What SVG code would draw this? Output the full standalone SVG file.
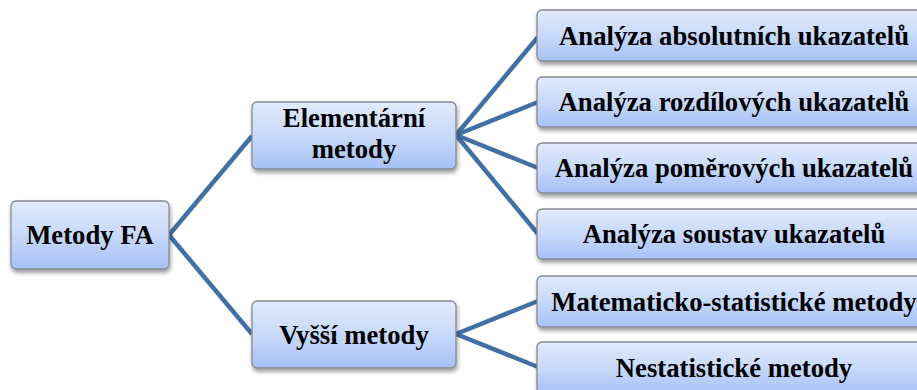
<svg xmlns="http://www.w3.org/2000/svg" width="917" height="390" viewBox="0 0 917 390">
<defs>
<linearGradient id="g" x1="0" y1="0" x2="0" y2="1">
<stop offset="0" stop-color="#e1eafc"/>
<stop offset="0.5" stop-color="#c8d9fa"/>
<stop offset="1" stop-color="#a5c1f6"/>
</linearGradient>
<filter id="sh" x="-10%" y="-20%" width="120%" height="150%">
<feGaussianBlur in="SourceAlpha" stdDeviation="2"/>
<feOffset dx="1" dy="3" result="b"/>
<feComponentTransfer><feFuncA type="linear" slope="0.4"/></feComponentTransfer>
<feMerge><feMergeNode/><feMergeNode in="SourceGraphic"/></feMerge>
</filter>
</defs>
<style>
.box{fill:url(#g);stroke:#858a92;stroke-width:1.3;filter:url(#sh)}
.c{stroke:#4270a5;stroke-width:4.5;fill:none;stroke-linecap:butt}
</style>
<rect width="917" height="390" fill="#ffffff"/>
<g id="connectors">
<line class="c" x1="169" y1="235" x2="252" y2="136"/>
<line class="c" x1="169" y1="235" x2="252" y2="334"/>
<line class="c" x1="456" y1="135" x2="538" y2="37"/>
<line class="c" x1="456" y1="135" x2="538" y2="102"/>
<line class="c" x1="456" y1="135" x2="538" y2="168"/>
<line class="c" x1="456" y1="135" x2="538" y2="234"/>
<line class="c" x1="456" y1="334" x2="538" y2="301"/>
<line class="c" x1="456" y1="334" x2="538" y2="367"/>
</g>
<g font-family="'Liberation Serif', 'Times New Roman', serif" font-weight="bold" font-size="26.7" fill="#000000" text-anchor="middle">
<g id="n-metody-fa">
<rect class="box" x="11" y="201" width="158" height="68" rx="5"/>
<text x="90" y="244">Metody FA</text>
</g>
<g id="n-elementarni">
<rect class="box" x="252" y="102" width="204" height="67" rx="5"/>
<text x="354" y="127">Elementární</text>
<text x="354" y="158">metody</text>
</g>
<g id="n-vyssi">
<rect class="box" x="252" y="301" width="204" height="67" rx="5"/>
<text x="354" y="344">Vyšší metody</text>
</g>
<g id="n-absolutni">
<rect class="box" x="537" y="10" width="392" height="51" rx="5"/>
<text x="734" y="45">Analýza absolutních ukazatelů</text>
</g>
<g id="n-rozdilove">
<rect class="box" x="537" y="77" width="392" height="50" rx="5"/>
<text x="734" y="111">Analýza rozdílových ukazatelů</text>
</g>
<g id="n-pomerove">
<rect class="box" x="537" y="143" width="392" height="50" rx="5"/>
<text x="734" y="177">Analýza poměrových ukazatelů</text>
</g>
<g id="n-soustavy">
<rect class="box" x="537" y="209" width="392" height="50" rx="5"/>
<text x="734" y="243">Analýza soustav ukazatelů</text>
</g>
<g id="n-matstat">
<rect class="box" x="537" y="276" width="392" height="51" rx="5"/>
<text x="734" y="311">Matematicko-statistické metody</text>
</g>
<g id="n-nestat">
<rect class="box" x="537" y="342" width="392" height="52" rx="5"/>
<text x="734" y="377">Nestatistické metody</text>
</g>
</g>
</svg>
